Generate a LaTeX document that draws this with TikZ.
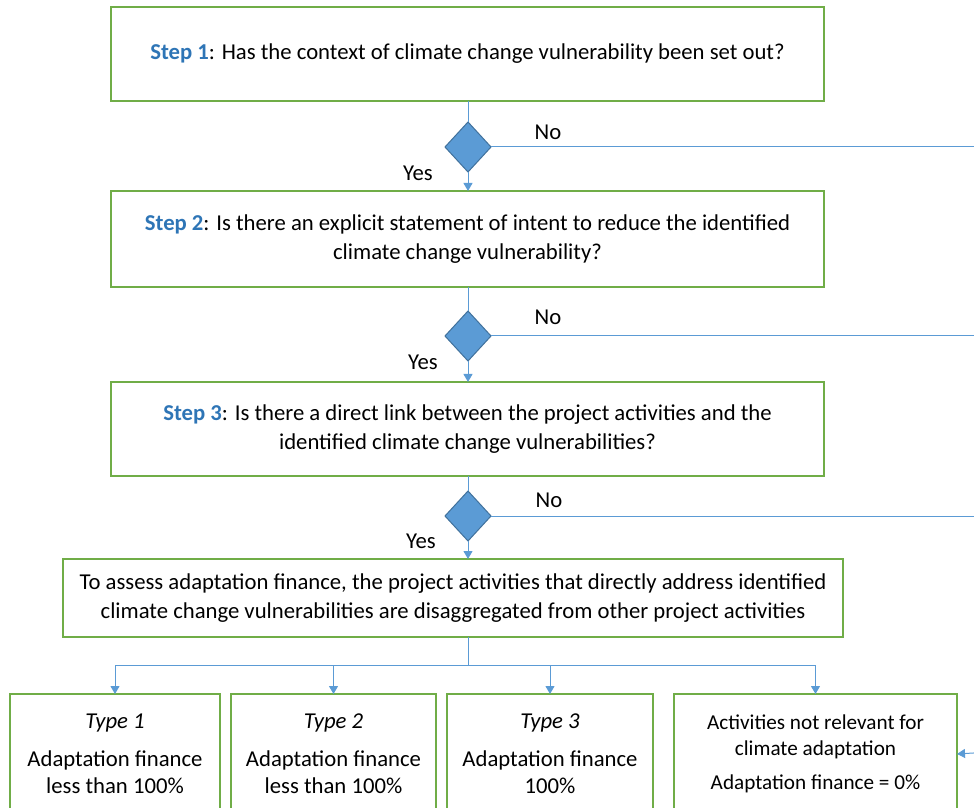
\documentclass[tikz,border=0pt]{standalone}
\usepackage{fontspec}
\setmainfont{Carlito}
\usetikzlibrary{shapes.geometric,positioning,arrows.meta}
\definecolor{boxgreen}{HTML}{70AD47}
\definecolor{lineblue}{HTML}{5B9BD5}
\definecolor{stepblue}{HTML}{2E75B6}
\definecolor{diamondedge}{HTML}{41719C}
\newcommand{\stepno}[1]{\textbf{\textcolor{stepblue}{Step #1}}}
\begin{document}
\begin{tikzpicture}[x=1pt,y=1pt]
    \tikzstyle{arrow} = [line width=1pt, lineblue, -{Triangle[width=9pt,length=8pt]}]
    \tikzstyle{line} = [line width=1pt, lineblue]
    \tikzstyle{stepbox} = [rectangle, draw=boxgreen, line width=1.5pt, outer sep=0pt, minimum width=713pt, text centered, align=center, font=\fontsize{22.7}{29}\selectfont]
    \tikzstyle{typebox} = [rectangle, draw=boxgreen, line width=1.5pt, outer sep=0pt, minimum height=120pt, text centered, align=center, font=\fontsize{22.7}{27}\selectfont]
    \tikzstyle{decision} = [diamond, fill=lineblue, draw=diamondedge, line width=1pt, outer sep=0pt, minimum width=46pt, minimum height=50pt, inner sep=0pt]
    \tikzstyle{lbl} = [font=\fontsize{22.7}{27}\selectfont]
    \useasboundingbox (0,0) rectangle (974,807);
    \coordinate (edge) at (990,0);
    \node[stepbox, minimum height=94pt](S1) at (467.5,753){\stepno{1}: Has the context of climate change vulnerability been set out?};
    \node[decision, below = 21pt of S1, xshift = 0.5pt](D1){};
    \node[stepbox, minimum height=96pt, below = 19pt of D1, xshift = -0.5pt](S2){\stepno{2}: Is there an explicit statement of intent to reduce the identified\\climate change vulnerability?};
    \node[decision, below = 24pt of S2, xshift = 0.5pt](D2){};
    \node[stepbox, minimum height=94pt, below = 21pt of D2, xshift = -0.5pt](S3){\stepno{3}: Is there a direct link between the project activities and the\\identified climate change vulnerabilities?};
    \node[decision, below = 15pt of S3, xshift = 0.5pt](D3){};
    \node[stepbox, minimum width=780pt, minimum height=78pt, below = 18pt of D3, xshift = -15pt](S4){To assess adaptation finance, the project activities that directly address identified\\climate change vulnerabilities are disaggregated from other project activities};
    \node[typebox, minimum width=210pt, below = 57pt of S4, xshift = -338pt](T1){\textit{Type 1}\\[11pt]Adaptation finance\\less than 100\%};
    \node[typebox, minimum width=205pt, right = 11pt of T1](T2){\textit{Type 2}\\[11pt]Adaptation finance\\less than 100\%};
    \node[typebox, minimum width=206pt, right = 11pt of T2](T3){\textit{Type 3}\\[11pt]Adaptation finance\\100\%};
    \node[typebox, minimum width=283pt, right = 21pt of T3, font=\fontsize{21.2}{26}\selectfont](T4){Activities not relevant for\\climate adaptation\\[8pt]Adaptation finance = 0\%};
    \node[lbl](No1) at ([xshift=57pt, yshift=15pt]D1.east){No};
    \node[lbl](No2) at ([xshift=57pt, yshift=19pt]D2.east){No};
    \node[lbl](No3) at ([xshift=58pt, yshift=16pt]D3.east){No};
    \node[lbl](Yes1) at ([xshift=-50pt, yshift=-1pt]D1.south){Yes};
    \node[lbl](Yes2) at ([xshift=-45pt, yshift=-1pt]D2.south){Yes};
    \node[lbl](Yes3) at ([xshift=-47pt, yshift=0pt]D3.south){Yes};
    \coordinate (split) at ([yshift=-28pt]D3 |- S4.south);
    \coordinate (in4) at (990,55);
    \draw[line] (S1.south -| D1) -- (D1.north);
    \draw[line] (S2.south -| D2) -- (D2.north);
    \draw[line] (S3.south -| D3) -- (D3.north);
    \draw[arrow] (D1.south) -- (D1 |- S2.north);
    \draw[arrow] (D2.south) -- (D2 |- S3.north);
    \draw[arrow] (D3.south) -- (D3 |- S4.north);
    \draw[line] (D1.east) -- (D1.east -| edge);
    \draw[line] (D2.east) -- (D2.east -| edge);
    \draw[line] (D3.east) -- (D3.east -| edge);
    \draw[line] (D3 |- S4.south) -- (split);
    \draw[line] (T1 |- split) -- (T4 |- split);
    \foreach \t in {T1,T2,T3,T4}
        \draw[arrow] (\t |- split) -- (\t.north);
    \draw[arrow] (in4) -- (T4.east);
\end{tikzpicture}
\end{document}
